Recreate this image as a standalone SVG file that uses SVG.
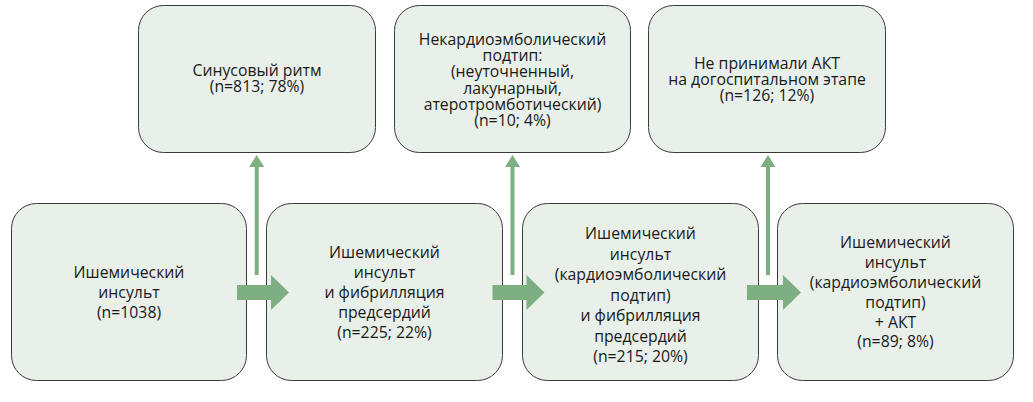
<svg xmlns="http://www.w3.org/2000/svg" width="1033" height="402" viewBox="0 0 1033 402">
<style>
.box{fill:#e9efe9;stroke:#3a3a3a;stroke-width:1}
.t{font-family:"Open Sans","Noto Sans","DejaVu Sans",sans-serif;font-size:15.8px;fill:#1a1a1a;text-anchor:middle}
.arr{fill:#7daf82}
</style>
<rect width="1033" height="402" fill="#ffffff"/>
<g id="n-sinus">
<rect class="box" x="138.5" y="5.5" width="237" height="147" rx="25"/>
<text class="t" x="257" y="75.5">Синусовый ритм</text>
<text class="t" x="257" y="91.7">(n=813; 78%)</text>
</g>
<g id="n-nekardio">
<rect class="box" x="394.5" y="5.5" width="236" height="147" rx="25"/>
<text class="t" x="512.5" y="45">Некардиоэмболический</text>
<text class="t" x="512.5" y="61.2">подтип:</text>
<text class="t" x="512.5" y="77.4">(неуточненный,</text>
<text class="t" x="512.5" y="93.6">лакунарный,</text>
<text class="t" x="512.5" y="109.8">атеротромботический)</text>
<text class="t" x="512.5" y="126">(n=10; 4%)</text>
</g>
<g id="n-neprinimali">
<rect class="box" x="648.5" y="5.5" width="237" height="147" rx="25"/>
<text class="t" x="767" y="68.5">Не принимали АКТ</text>
<text class="t" x="767" y="84.7">на догоспитальном этапе</text>
<text class="t" x="767" y="100.9">(n=126; 12%)</text>
</g>
<g id="n-ishem">
<rect class="box" x="11.5" y="203.5" width="235" height="177" rx="25"/>
<text class="t" x="129" y="278">Ишемический</text>
<text class="t" x="129" y="298">инсульт</text>
<text class="t" x="129" y="318">(n=1038)</text>
</g>
<g id="n-ishem-fp">
<rect class="box" x="266.5" y="203.5" width="236" height="177" rx="25"/>
<text class="t" x="384.5" y="258">Ишемический</text>
<text class="t" x="384.5" y="278">инсульт</text>
<text class="t" x="384.5" y="298">и фибрилляция</text>
<text class="t" x="384.5" y="318">предсердий</text>
<text class="t" x="384.5" y="338">(n=225; 22%)</text>
</g>
<g id="n-kardio-fp">
<rect class="box" x="522.5" y="203.5" width="236" height="177" rx="25"/>
<text class="t" x="640.5" y="239">Ишемический</text>
<text class="t" x="640.5" y="260">инсульт</text>
<text class="t" x="640.5" y="280">(кардиоэмболический</text>
<text class="t" x="640.5" y="301">подтип)</text>
<text class="t" x="640.5" y="321">и фибрилляция</text>
<text class="t" x="640.5" y="342">предсердий</text>
<text class="t" x="640.5" y="362">(n=215; 20%)</text>
</g>
<g id="n-kardio-akt">
<rect class="box" x="777.5" y="203.5" width="236" height="177" rx="25"/>
<text class="t" x="895.5" y="248">Ишемический</text>
<text class="t" x="895.5" y="268">инсульт</text>
<text class="t" x="895.5" y="288">(кардиоэмболический</text>
<text class="t" x="895.5" y="308">подтип)</text>
<text class="t" x="895.5" y="328">+ АКТ</text>
<text class="t" x="895.5" y="347">(n=89; 8%)</text>
</g>
<g id="connectors">
<path class="arr" d="M254.7 275 V167 H249.2 L256.7 155 L264.2 167 H258.7 V275 Z"/>
<path class="arr" d="M510.5 275 V167 H505 L512.5 155 L520 167 H514.5 V275 Z"/>
<path class="arr" d="M766 275 V167 H760.5 L768 155 L775.5 167 H770 V275 Z"/>
<path class="arr" d="M237 285 H271 V275 L289 292.5 L271 310 V300 H237 Z"/>
<path class="arr" d="M492.5 285 H526.5 V275 L544.5 292.5 L526.5 310 V300 H492.5 Z"/>
<path class="arr" d="M747 285 H783 V275 L801 292.5 L783 310 V300 H747 Z"/>
</g>
</svg>
